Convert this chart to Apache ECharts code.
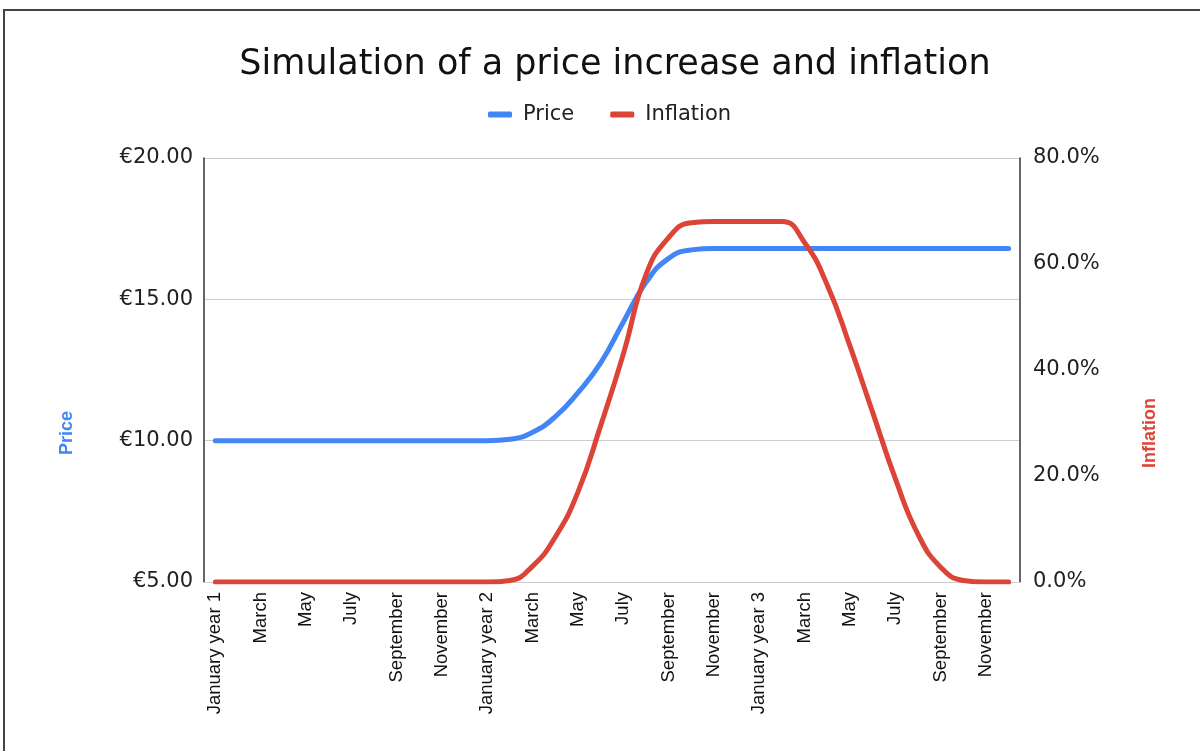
<!DOCTYPE html>
<html>
<head>
<meta charset="utf-8">
<script src="https://cdn.jsdelivr.net/npm/echarts@6/dist/echarts.min.js"></script>
<style>
html,body{margin:0;padding:0;background:#fff;}
#chart{width:1200px;height:751px;}
</style>
</head>
<body>
<div id="chart"></div>
<script>
const titleText = 'Simulation of a price increase and inflation';
const months = ['January','February','March','April','May','June','July','August','September','October','November','December'];
const categories = [];
for (let y = 1; y <= 3; y++) {
  months.forEach((m, k) => categories.push(k === 0 ? m + ' year ' + y : m));
}
const priceValues = [
  10, 10, 10, 10, 10, 10, 10, 10, 10, 10, 10, 10,
  10, 10.05, 10.3, 10.85, 11.7, 12.75, 14.2, 15.6, 16.45, 16.75, 16.8, 16.8,
  16.8, 16.8, 16.8, 16.8, 16.8, 16.8, 16.8, 16.8, 16.8, 16.8, 16.8, 16.8
];
const inflationValues = [
  0, 0, 0, 0, 0, 0, 0, 0, 0, 0, 0, 0,
  0, 0.3, 3, 8.5, 17, 29.5, 43, 58, 65, 67.8, 68, 68,
  68, 68, 64, 56, 44.5, 32, 19.5, 9, 2.8, 0.3, 0, 0
];
const priceTicks = [5, 10, 15, 20];
const inflationTicks = [0, 20, 40, 60, 80];

const chart = echarts.init(document.getElementById('chart'), null, {renderer: 'canvas'});
const wide = "'DejaVu Sans', 'Liberation Sans', Arial, sans-serif";
const arial = "'Liberation Sans', Arial, sans-serif";
chart.setOption({
  animation: false,
  backgroundColor: '#ffffff',
  title: {
    text: titleText,
    left: 610,
    textAlign: 'center',
    top: 42,
    textStyle: {fontFamily: wide, fontSize: 35, fontWeight: 'normal', color: '#111'}
  },
  legend: {
    data: ['Price', 'Inflation'],
    top: 99,
    left: 483,
    itemWidth: 24,
    itemHeight: 6,
    itemGap: 36,
    icon: 'roundRect',
    textStyle: {fontFamily: wide, fontSize: 21, color: '#222', padding: [0, 0, 0, 6]}
  },
  grid: {left: 204, right: 180, top: 158, bottom: 169, containLabel: false},
  xAxis: {
    type: 'category',
    data: categories,
    boundaryGap: true,
    axisLine: {show: true, lineStyle: {color: '#cccccc', width: 1}},
    axisTick: {show: false},
    axisLabel: {
      interval: 1,
      rotate: 90,
      margin: 10,
      fontFamily: arial,
      fontSize: 18.5,
      color: '#111'
    },
    splitLine: {show: false}
  },
  yAxis: [
    {
      type: 'value',
      min: priceTicks[0],
      max: priceTicks[priceTicks.length - 1],
      interval: 5,
      position: 'left',
      axisLine: {show: true, lineStyle: {color: '#333', width: 1.5}},
      axisTick: {show: false},
      axisLabel: {
        margin: 11,
        fontFamily: wide,
        fontSize: 21,
        color: '#222',
        formatter: v => '€' + v.toFixed(2)
      },
      splitLine: {show: true, lineStyle: {color: '#cccccc', width: 1}}
    },
    {
      type: 'value',
      min: inflationTicks[0],
      max: inflationTicks[inflationTicks.length - 1],
      interval: 20,
      position: 'right',
      axisLine: {show: true, lineStyle: {color: '#333', width: 1.5}},
      axisTick: {show: false},
      axisLabel: {
        margin: 13,
        fontFamily: wide,
        fontSize: 21,
        color: '#222',
        formatter: v => v.toFixed(1) + '%'
      },
      splitLine: {show: false}
    }
  ],
  series: [
    {
      name: 'Price',
      type: 'line',
      yAxisIndex: 0,
      data: priceValues,
      smooth: 0.5,
      showSymbol: false,
      symbol: 'none',
      color: '#4285F4',
      lineStyle: {color: '#4285F4', width: 5, cap: 'round'},
      z: 2
    },
    {
      name: 'Inflation',
      type: 'line',
      yAxisIndex: 1,
      data: inflationValues,
      smooth: 0.5,
      showSymbol: false,
      symbol: 'none',
      color: '#DB4437',
      lineStyle: {color: '#DB4437', width: 5, cap: 'round'},
      z: 3
    }
  ],
  graphic: [
    {
      type: 'rect',
      shape: {x: 4, y: 10, width: 1210, height: 800},
      style: {fill: 'none', stroke: '#444', lineWidth: 2},
      silent: true
    },
    {
      type: 'text',
      x: 67, y: 433,
      rotation: Math.PI / 2,
      style: {text: 'Price', fontFamily: arial, fontWeight: 'bold', fontSize: 18, fill: '#4285F4', align: 'center', verticalAlign: 'middle'}
    },
    {
      type: 'text',
      x: 1150, y: 433,
      rotation: Math.PI / 2,
      style: {text: 'Inflation', fontFamily: arial, fontWeight: 'bold', fontSize: 18, fill: '#DB4437', align: 'center', verticalAlign: 'middle'}
    }
  ]
});
</script>
</body>
</html>
